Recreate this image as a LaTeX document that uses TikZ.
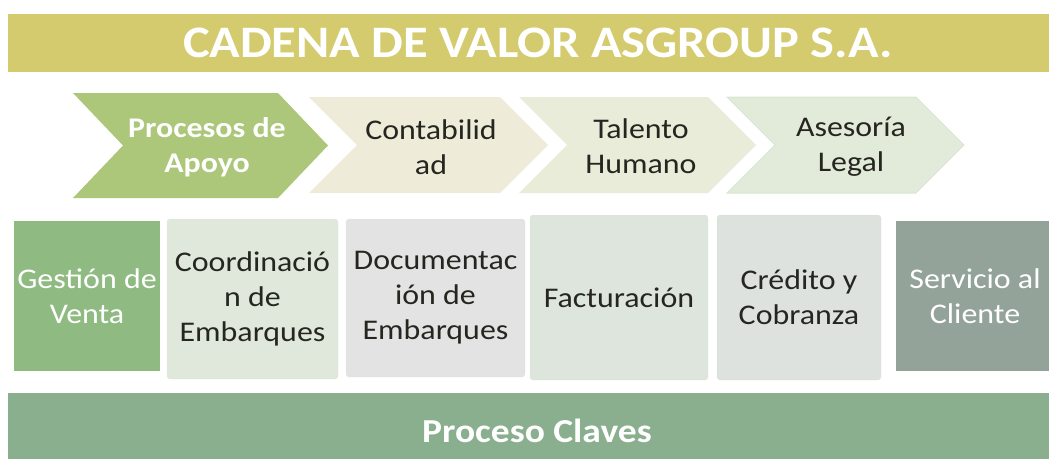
\documentclass[tikz,border=0pt]{standalone}
\usepackage{fontspec}
\setmainfont[FakeStretch=1.12]{Carlito}
\definecolor{bannerc}{RGB}{211,203,110}
\definecolor{chA}{RGB}{172,198,122}
\definecolor{chB}{RGB}{238,236,216}
\definecolor{chC}{RGB}{232,236,217}
\definecolor{chD}{RGB}{226,235,218}
\definecolor{chDedge}{RGB}{216,229,208}
\definecolor{bxA}{RGB}{143,187,130}
\definecolor{bxB}{RGB}{223,232,218}
\definecolor{bxC}{RGB}{226,227,226}
\definecolor{bxD}{RGB}{222,229,221}
\definecolor{bxE}{RGB}{222,226,222}
\definecolor{bxF}{RGB}{148,163,154}
\definecolor{bottomc}{RGB}{138,175,143}
\definecolor{darktext}{RGB}{38,38,33}
\begin{document}
\begin{tikzpicture}[x=1pt,y=-1pt,
  bodytext/.style={font=\fontsize{28.5}{35}\selectfont, align=center, text=darktext, inner sep=0pt},
  boxnode/.style={bodytext, minimum width=#1, minimum height=160, rounded corners=3pt, draw=white!85!black, draw opacity=0.35},
  plainbox/.style={bodytext, text=white, inner sep=0pt}]
\useasboundingbox (0,0) rectangle (1049,459);
% title banner
\fill[bannerc] (8,14) rectangle (1049,72);
\node[font=\fontsize{45}{54}\selectfont\bfseries, text=white, inner sep=0pt] (title) at (538,43) {CADENA DE VALOR ASGROUP S.A.};
% chevrons
\fill[chA] (73,93) -- (278,93) -- (328,145.5) -- (278,198) -- (73,198) -- (123,145.5) -- cycle;
\fill[chB] (309,97) -- (500,97) -- (548,145) -- (500,193) -- (309,193) -- (357,145) -- cycle;
\fill[chC] (519,97) -- (708,97) -- (756,145) -- (708,193) -- (519,193) -- (567,145) -- cycle;
\filldraw[fill=chD, draw=chDedge, line width=1pt] (727,97) -- (916,97) -- (964,145) -- (916,193) -- (727,193) -- (775,145) -- cycle;
\node[bodytext, text=white, font=\fontsize{28.5}{35}\selectfont\bfseries] (c1) at (207,147) {Procesos de\\Apoyo};
\node[bodytext] (c2) at (431,147) {Contabilid\\ad};
\node[bodytext] (c3) at (641,146) {Talento\\Humano};
\node[bodytext] (c4) at (851,147) {Asesoría\\Legal};
% process boxes
\node[plainbox, fill=bxA, minimum width=146, minimum height=150] (b1) at (87,296) {Gestión de\\Venta};
\node[boxnode=171, fill=bxB] (b2) at (252.5,299) {Coordinació\\n de\\Embarques};
\node[boxnode=179, fill=bxC, minimum height=158] (b3) at (435.5,298) {Documentac\\ión de\\Embarques};
\node[boxnode=178, fill=bxD, minimum height=165] (b4) at (619,297.5) {Facturación};
\node[boxnode=164, fill=bxE, minimum height=165] (b5) at (799,297.5) {Crédito y\\Cobranza};
\fill[bxF] (896,221) rectangle (1049,371);
\node[plainbox] (b6) at (975,296.5) {Servicio al\\Cliente};
% bottom banner
\fill[bottomc] (8,393) rectangle (1049,459);
\node[font=\fontsize{33.5}{38}\selectfont\bfseries, text=white, inner sep=0pt, anchor=base] (keys) at (537,442) {Proceso Claves};
\end{tikzpicture}
\end{document}
